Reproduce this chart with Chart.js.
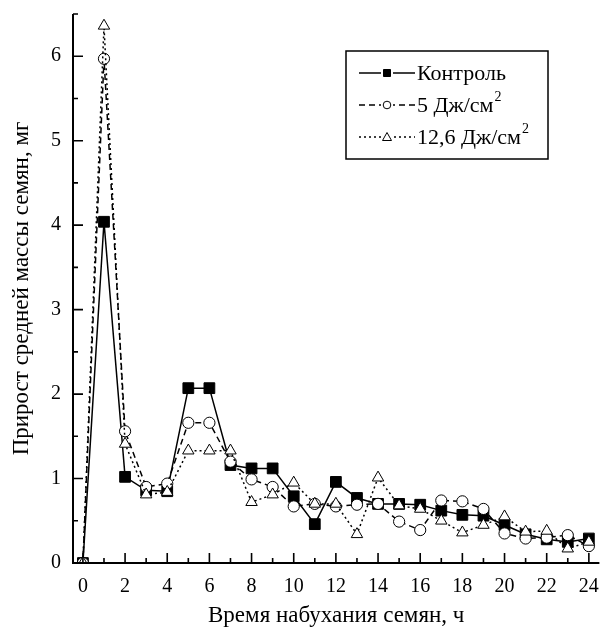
<!DOCTYPE html>
<html>
<head>
<meta charset="utf-8">
<script src="https://cdn.jsdelivr.net/npm/chart.js@4"></script>
<style>
  html, body { margin: 0; padding: 0; background: #fff; }
  #wrap { width: 608px; height: 628px; }
</style>
</head>
<body>
<div id="wrap"><canvas id="c" width="608" height="628"></canvas></div>
<script>
const hours = [0, 1, 2, 3, 4, 5, 6, 7, 8, 9, 10, 11, 12, 13, 14, 15, 16, 17, 18, 19, 20, 21, 22, 23, 24];
const control = [0, 4.04, 1.02, 0.86, 0.85, 2.07, 2.07, 1.16, 1.12, 1.12, 0.79, 0.46, 0.96, 0.77, 0.70, 0.70, 0.69, 0.62, 0.57, 0.56, 0.45, 0.34, 0.28, 0.25, 0.29];
const dose5 = [0, 5.97, 1.56, 0.90, 0.94, 1.66, 1.66, 1.20, 0.99, 0.90, 0.67, 0.70, 0.67, 0.69, 0.70, 0.49, 0.39, 0.74, 0.73, 0.64, 0.35, 0.29, 0.30, 0.33, 0.20];
const dose126 = [0, 6.36, 1.41, 0.81, 0.84, 1.33, 1.33, 1.33, 0.72, 0.81, 0.95, 0.70, 0.70, 0.34, 1.01, 0.68, 0.64, 0.50, 0.36, 0.45, 0.55, 0.37, 0.38, 0.17, 0.25];
const seriesNames = ['Контроль', '5 Дж/см', '12,6 Дж/см'];
const seriesSup = ['', '2', '2'];
const xTitle = 'Время набухания семян, ч';
const yTitle = 'Прирост средней массы семян, мг';

const FONT = '"Liberation Serif", "Times New Roman", serif';

function pts(arr) { return hours.map((h, i) => ({x: h, y: arr[i]})); }

const styles = [
  {dash: [], shape: 'rect', fill: '#000', r: 7.6},
  {dash: [6, 4], shape: 'circle', fill: '#fff', r: 5.6},
  {dash: [2, 3], shape: 'triangle', fill: '#fff', r: 6.6}
];

const ticksPlugin = {
  id: 'axesTicks',
  afterDatasetsDraw(chart) {
    const ctx = chart.ctx, xs = chart.scales.x, ys = chart.scales.y;
    const a = chart.chartArea;
    ctx.save();
    ctx.strokeStyle = '#000';
    ctx.lineWidth = 2;
    ctx.beginPath();
    ctx.moveTo(a.left, a.top);
    ctx.lineTo(a.left, a.bottom);
    ctx.lineTo(a.right, a.bottom);
    ctx.stroke();
    ctx.lineWidth = 1.6;
    ctx.beginPath();
    for (let v = 0; v <= 24; v++) {
      const px = xs.getPixelForValue(v);
      const len = v % 2 === 0 ? 10 : 5;
      ctx.moveTo(px, a.bottom);
      ctx.lineTo(px, a.bottom - len);
    }
    for (let k = 0; k <= 13; k++) {
      const v = k * 0.5;
      const py = ys.getPixelForValue(v);
      const len = k % 2 === 0 ? 10 : 5;
      ctx.moveTo(a.left, py);
      ctx.lineTo(a.left + len, py);
    }
    ctx.stroke();
    ctx.restore();
  }
};

const legendPlugin = {
  id: 'customLegend',
  afterDraw(chart) {
    const ctx = chart.ctx;
    const box = {x: 346, y: 51, w: 202, h: 108};
    ctx.save();
    ctx.strokeStyle = '#000';
    ctx.lineWidth = 1.5;
    ctx.strokeRect(box.x, box.y, box.w, box.h);
    const rows = [73, 105, 137];
    rows.forEach((y, i) => {
      const st = styles[i];
      ctx.setLineDash(st.dash);
      ctx.lineWidth = 1.5;
      ctx.strokeStyle = '#000';
      ctx.beginPath();
      ctx.moveTo(359, y);
      ctx.lineTo(415, y);
      ctx.stroke();
      ctx.setLineDash([]);
      ctx.fillStyle = '#fff';
      ctx.fillRect(381, y - 5, 12, 10);
      ctx.lineWidth = 1;
      ctx.fillStyle = st.fill;
      ctx.beginPath();
      if (st.shape === 'rect') {
        ctx.rect(383.5, y - 3.5, 7, 7);
      } else if (st.shape === 'circle') {
        ctx.arc(387, y, 3.8, 0, Math.PI * 2);
      } else {
        ctx.moveTo(387, y - 4.5);
        ctx.lineTo(391.5, y + 3.5);
        ctx.lineTo(382.5, y + 3.5);
        ctx.closePath();
      }
      ctx.fill();
      ctx.stroke();
      ctx.fillStyle = '#000';
      ctx.font = '22px ' + FONT;
      ctx.textBaseline = 'middle';
      ctx.textAlign = 'left';
      ctx.fillText(seriesNames[i], 417, y + 1);
      if (seriesSup[i]) {
        const w = ctx.measureText(seriesNames[i]).width;
        ctx.font = '14px ' + FONT;
        ctx.fillText(seriesSup[i], 418 + w, y - 8);
      }
    });
    ctx.restore();
  }
};

const datasets = [control, dose5, dose126].map((arr, i) => ({
  label: seriesNames[i] + seriesSup[i],
  data: pts(arr),
  borderColor: '#000',
  borderWidth: 1.5,
  borderDash: styles[i].dash,
  pointStyle: styles[i].shape,
  pointRadius: styles[i].r,
  pointBackgroundColor: styles[i].fill,
  pointBorderColor: '#000',
  pointBorderWidth: 1,
  tension: 0,
  fill: false
}));

function zeroPad(s) { s.paddingTop = 0; s.paddingBottom = 0; s.paddingLeft = 0; s.paddingRight = 0; }

new Chart(document.getElementById('c'), {
  type: 'line',
  data: {datasets: datasets.slice().reverse()},
  options: {
    responsive: false,
    animation: false,
    devicePixelRatio: 1,
    layout: {padding: {top: 14, right: 2, left: 0, bottom: 0}},
    plugins: {legend: {display: false}, tooltip: {enabled: false}},
    scales: {
      x: {
        type: 'linear',
        min: -0.47,
        max: 24.5,
        grid: {display: false, drawTicks: false},
        border: {display: false},
        ticks: {
          stepSize: 1,
          includeBounds: false,
          autoSkip: false,
          maxRotation: 0,
          padding: 12,
          color: '#000',
          font: {family: FONT, size: 20},
          callback: v => (Number.isInteger(v) && v % 2 === 0) ? String(v) : ''
        },
        title: {display: true, text: xTitle, color: '#000', font: {family: FONT, size: 23, lineHeight: 1}, padding: {top: 1, bottom: 1}},
        afterFit: s => { s.height = 65; zeroPad(s); }
      },
      y: {
        min: 0,
        max: 6.5,
        grid: {display: false, drawTicks: false},
        border: {display: false},
        ticks: {
          stepSize: 0.5,
          includeBounds: false,
          autoSkip: false,
          padding: 12,
          color: '#000',
          font: {family: FONT, size: 20},
          callback: v => Number.isInteger(v) ? String(v) : ''
        },
        title: {display: true, text: yTitle, color: '#000', font: {family: FONT, size: 23, lineHeight: 1}, padding: {top: 10, bottom: 10}},
        afterFit: s => { s.width = 73; zeroPad(s); }
      }
    }
  },
  plugins: [ticksPlugin, legendPlugin]
});
</script>
</body>
</html>
